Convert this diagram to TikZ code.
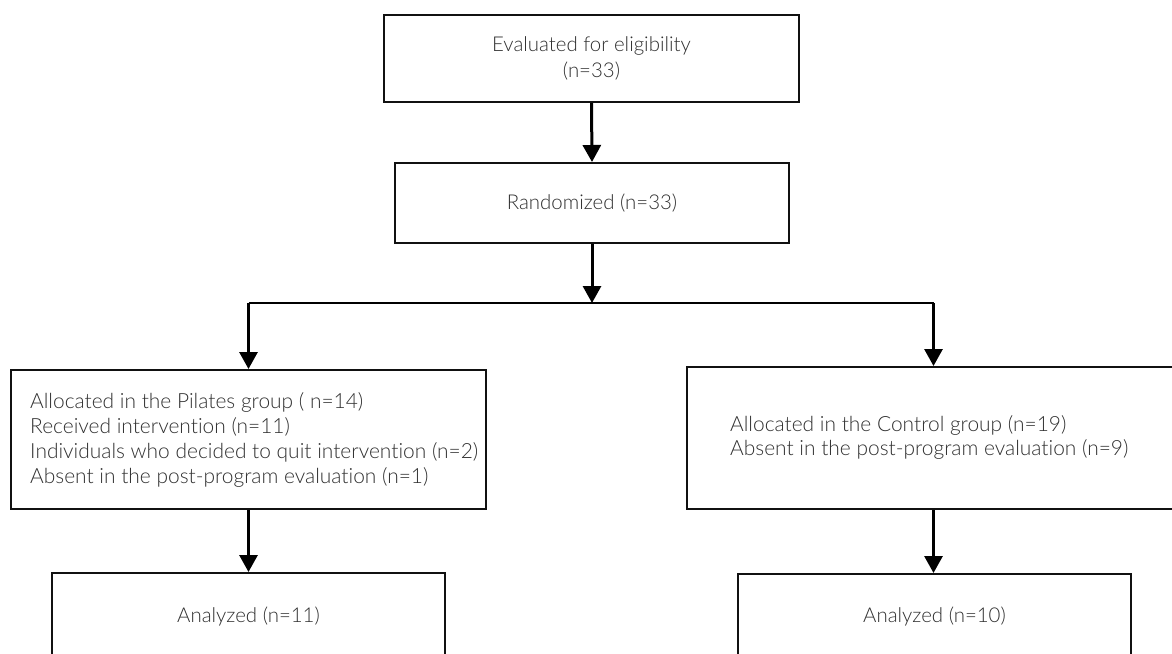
\documentclass[tikz,border=0pt]{standalone}
\usepackage{fontspec}
\setmainfont{Lato}[UprightFont={* Light},Ligatures={NoCommon}]
\usetikzlibrary{arrows.meta}
\definecolor{txt}{HTML}{303030}
\definecolor{ln}{HTML}{111111}
\tikzset{
  boxs/.style={draw=ln, line width=2bp, inner sep=0pt, text=txt, align=center},
  txts/.style={inner sep=0pt, text=txt, align=left, anchor=west},
  arr/.style={draw=black, line width=3bp, -{Triangle[width=18bp,length=17bp]}},
  barline/.style={draw=black, line width=2bp},
  big/.style={font=\fontsize{21}{25}\selectfont},
}
\begin{document}
\begin{tikzpicture}[x=1bp,y=-1bp, font=\fontsize{20.5}{26.5}\selectfont]
\useasboundingbox (0,0) rectangle (1172,654);
\clip (0,0) rectangle (1172,654);
\fill[white] (0,0) rectangle (1172,654);
\node[boxs, minimum width=415bp, minimum height=87bp] (elig) at (591.5,58.5) {Evaluated for eligibility\\(n=33)};
\node[boxs, minimum width=394bp, minimum height=80bp] (rand) at (592,203) {Randomized (n=33)};
\coordinate (bl) at (248.5,303);
\coordinate (br) at (933.5,303);
\coordinate (bm) at (592,303);
\node[boxs, minimum width=475bp, minimum height=139bp] (pil) at (248.5,439.5) {};
\node[txts, big] (piltext) at (30,440) {Allocated in the Pilates group ( n=14)\\Received intervention (n=11)\\Individuals who decided to quit intervention (n=2)\\Absent in the post-program evaluation (n=1)};
\node[boxs, minimum width=493bp, minimum height=142bp] (ctl) at (933.5,438) {};
\node[txts, big] (ctltext) at (730,437.5) {Allocated in the Control group (n=19)\\Absent in the post-program evaluation (n=9)};
\node[boxs, minimum width=393bp, minimum height=88bp] (anp) at (248.5,617) {Analyzed (n=11)};
\node[boxs, minimum width=393bp, minimum height=86bp] (anc) at (934.5,617) {Analyzed (n=10)};
\draw[arr] (elig.south) -- (rand.north);
\draw[arr] (rand.south) -- (bm);
\draw[barline] (bl) -- (br);
\draw[arr] (bl) -- (bl |- pil.north);
\draw[arr] (br) -- (br |- ctl.north);
\draw[arr] (pil.south) -- (anp.north);
\draw[arr] (ctl.south) -- (ctl.south |- anc.north);
\end{tikzpicture}
\end{document}
